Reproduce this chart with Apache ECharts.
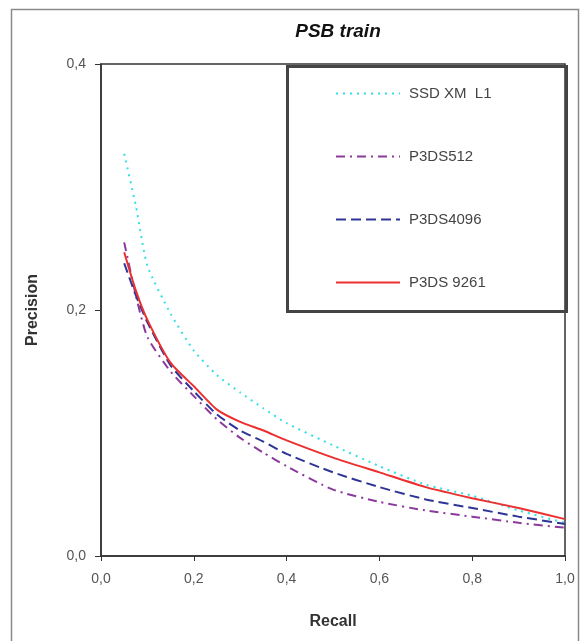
<!DOCTYPE html>
<html>
<head>
<meta charset="utf-8">
<script src="https://cdn.jsdelivr.net/npm/echarts@6/dist/echarts.min.js"></script>
<style>html,body{margin:0;padding:0;background:#fff}#c{width:582px;height:641px}</style>
</head>
<body>
<div id="c"></div>
<script>
const recall = [0.05, 0.075, 0.1, 0.15, 0.2, 0.25, 0.3, 0.35, 0.4, 0.5, 0.6, 0.7, 0.8, 0.9, 1.0];
const ssdXmL1 = [0.327, 0.285, 0.236, 0.197, 0.167, 0.147, 0.133, 0.120, 0.108, 0.090, 0.073, 0.058, 0.049, 0.037, 0.027];
const p3ds512 = [0.255, 0.212, 0.178, 0.150, 0.130, 0.111, 0.096, 0.084, 0.073, 0.054, 0.044, 0.037, 0.032, 0.027, 0.023];
const p3ds4096 = [0.238, 0.212, 0.190, 0.155, 0.134, 0.115, 0.102, 0.093, 0.083, 0.068, 0.056, 0.046, 0.039, 0.032, 0.026];
const p3ds9261 = [0.247, 0.216, 0.192, 0.157, 0.138, 0.119, 0.109, 0.102, 0.094, 0.080, 0.068, 0.056, 0.047, 0.039, 0.030];
const seriesNames = ['SSD XM  L1', 'P3DS512', 'P3DS4096', 'P3DS 9261'];
const xTicks = [0, 0.2, 0.4, 0.6, 0.8, 1.0];
const yTicks = [0, 0.2, 0.4];

const pairs = arr => recall.map((r, i) => [r, arr[i]]);
const fmt = v => v.toFixed(1).replace('.', ',');

const chart = echarts.init(document.getElementById('c'), null, {renderer: 'canvas'});
chart.setOption({
  animation: false,
  backgroundColor: '#fff',
  title: {
    text: 'PSB train', left: 333, top: 17, textAlign: 'center',
    textStyle: {fontFamily: 'Liberation Sans, Arial', fontSize: 19, fontWeight: 'bold', fontStyle: 'italic', color: '#111'}
  },
  grid: {left: 101, right: 17, top: 64, bottom: 85, show: true, borderColor: '#333', borderWidth: 1.5, backgroundColor: '#fff'},
  xAxis: {
    type: 'value', min: 0, max: 1, interval: 0.2,
    name: 'Recall', nameLocation: 'middle', nameGap: 58,
    nameTextStyle: {fontFamily: 'Liberation Sans, Arial', fontSize: 16, fontWeight: 'bold', color: '#333'},
    axisLine: {show: true, lineStyle: {color: '#333', width: 1.5}},
    axisTick: {show: true, inside: false, length: 5, lineStyle: {color: '#333'}},
    axisLabel: {formatter: fmt, fontFamily: 'Liberation Sans, Arial', fontSize: 14, color: '#555', margin: 16},
    splitLine: {show: false}
  },
  yAxis: {
    type: 'value', min: 0, max: 0.4, interval: 0.2,
    name: 'Precision', nameLocation: 'middle', nameGap: 60, nameRotate: 90,
    nameTextStyle: {fontFamily: 'Liberation Sans, Arial', fontSize: 16, fontWeight: 'bold', color: '#333'},
    axisLine: {show: true, lineStyle: {color: '#333', width: 1.5}},
    axisTick: {show: true, inside: false, length: 6, lineStyle: {color: '#333'}},
    axisLabel: {formatter: fmt, fontFamily: 'Liberation Sans, Arial', fontSize: 14, color: '#555', margin: 15},
    splitLine: {show: false}
  },
  legend: {
    orient: 'vertical', left: 335, top: 86, padding: 0,
    itemWidth: 64, itemHeight: 14, itemGap: 48,
    data: seriesNames,
    itemStyle: {opacity: 0},
    textStyle: {fontFamily: 'Liberation Sans, Arial', fontSize: 15, color: '#444', padding: [0, 0, 0, 4]}
  },
  graphic: [
    {type: 'rect', left: 9, top: 7, shape: {width: 567, height: 650}, style: {fill: 'none', stroke: '#8a8a8a', lineWidth: 1.5}, silent: true},
    {type: 'rect', left: 285, top: 64, shape: {width: 279, height: 245}, style: {fill: 'none', stroke: '#444', lineWidth: 3}, silent: true, z: 10}
  ],
  series: [
    {name: seriesNames[0], type: 'line', data: pairs(ssdXmL1), symbol: 'none', smooth: 0.2,
     lineStyle: {color: '#33dfe6', width: 2, type: [2, 5]}, itemStyle: {color: '#33dfe6'}},
    {name: seriesNames[1], type: 'line', data: pairs(p3ds512), symbol: 'none', smooth: 0.2,
     lineStyle: {color: '#8b3a9c', width: 2, type: [9, 5, 2, 5]}, itemStyle: {color: '#8b3a9c'}},
    {name: seriesNames[2], type: 'line', data: pairs(p3ds4096), symbol: 'none', smooth: 0.2,
     lineStyle: {color: '#2e3596', width: 2, type: [10, 5]}, itemStyle: {color: '#2e3596'}},
    {name: seriesNames[3], type: 'line', data: pairs(p3ds9261), symbol: 'none', smooth: 0.2,
     lineStyle: {color: '#ec3030', width: 2}, itemStyle: {color: '#ec3030'}}
  ]
});
</script>
</body>
</html>
